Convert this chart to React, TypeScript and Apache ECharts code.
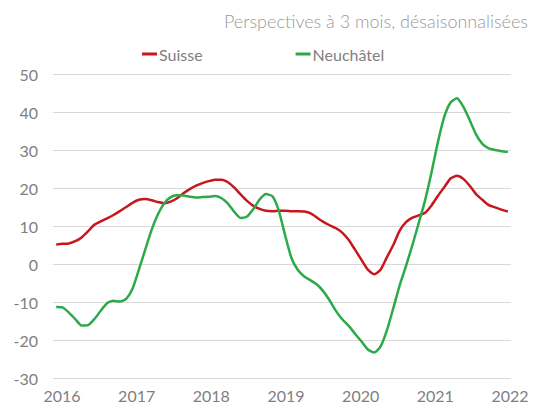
import React, { useEffect, useRef } from "react";
import * as echarts from "echarts";

const months: string[] = [];
for (let y = 2016; y <= 2021; y++) {
  for (let m = 1; m <= 12; m++) months.push(`${y}-${String(m).padStart(2, "0")}`);
}

const suisse = [
  5.1, 5.3, 5.4, 6.0, 7.0, 8.6, 10.3, 11.2, 12.0, 12.9, 13.9, 15.0,
  16.1, 16.9, 17.1, 16.8, 16.3, 16.0, 16.4, 17.3, 18.6, 19.7, 20.6, 21.3,
  21.8, 22.2, 22.2, 21.5, 20.1, 18.3, 16.6, 15.3, 14.5, 14.0, 13.9, 14.0,
  14.0, 13.9, 13.9, 13.8, 13.3, 12.2, 11.1, 10.2, 9.4, 8.2, 6.3, 3.7,
  1.1, -1.5, -2.7, -1.5, 1.8, 5.0, 8.8, 11.0, 12.2, 12.8, 13.5, 15.4,
  17.9, 20.2, 22.5, 23.2, 22.4, 20.6, 18.4, 16.9, 15.5, 14.9, 14.3, 13.8,
];

const neuchatel = [
  -11.3, -11.4, -12.8, -14.5, -16.2, -16.1, -14.5, -12.3, -10.3, -9.7, -9.9, -9.2,
  -6.5, -1.5, 3.8, 9.0, 13.1, 16.0, 17.6, 18.1, 18.0, 17.7, 17.5, 17.6,
  17.7, 17.9, 17.3, 15.9, 13.7, 12.1, 12.5, 14.5, 17.0, 18.4, 17.8, 14.0,
  7.5, 1.5, -1.6, -3.3, -4.3, -5.4, -7.2, -9.6, -12.4, -14.6, -16.3, -18.4,
  -20.4, -22.5, -23.3, -21.7, -17.4, -11.6, -5.6, -0.5, 5.0, 10.8, 16.8, 24.1,
  32.0, 38.7, 42.5, 43.6, 41.4, 37.9, 34.1, 31.6, 30.4, 30.0, 29.7, 29.5,
];

const yearLabels = ["2016", "2017", "2018", "2019", "2020", "2021", "2022"];

const FONT = "Lato, 'Open Sans', sans-serif";
const GRAY = "#808080";

export default function App() {
  const ref = useRef<HTMLDivElement>(null);
  useEffect(() => {
    if (!ref.current) return;
    const chart = echarts.init(ref.current, null, { renderer: "svg" });
    chart.setOption({
      animation: false,
      textStyle: { fontFamily: FONT },
      title: {
        text: "Perspectives à 3 mois, désaisonnalisées",
        right: 2,
        top: 7,
        textStyle: { fontFamily: FONT, fontSize: 18, fontWeight: 300, color: "#999999" },
      },
      legend: {
        left: 137,
        top: 41,
        itemGap: 93,
        itemWidth: 15,
        itemHeight: 3,
        icon: "rect",
        textStyle: { fontFamily: FONT, fontSize: 16, color: GRAY, padding: [0, 0, 0, -3] },
        data: ["Suisse", "Neuchâtel"],
      },
      grid: { left: 53, right: 24, top: 74, bottom: 25, containLabel: false },
      xAxis: [
        {
          type: "category",
          data: months,
          boundaryGap: true,
          axisLabel: { show: false },
          axisTick: { show: false },
          axisLine: { show: false },
        },
        {
          type: "value",
          position: "bottom",
          min: 2015.8795,
          max: 2022.0134,
          splitLine: { show: false },
          axisTick: { show: false },
          axisLine: { show: false },
          axisLabel: {
            customValues: yearLabels.map(Number),
            formatter: (v: number) => String(Math.round(v)),
            fontFamily: FONT,
            fontSize: 16,
            color: GRAY,
            margin: 9,
          },
        },
      ],
      yAxis: {
        type: "value",
        min: -30,
        max: 50,
        interval: 10,
        axisLine: { show: false },
        axisTick: { show: false },
        axisLabel: { fontFamily: FONT, fontSize: 16, color: GRAY, margin: 15 },
        splitLine: { lineStyle: { color: "#d9d9d9", width: 1 } },
      },
      series: [
        {
          name: "Suisse",
          type: "line",
          data: suisse,
          xAxisIndex: 0,
          showSymbol: false,
          smooth: 0.2,
          lineStyle: { color: "#c8161d", width: 2.5 },
          itemStyle: { color: "#c8161d" },
        },
        {
          name: "Neuchâtel",
          type: "line",
          data: neuchatel,
          xAxisIndex: 0,
          showSymbol: false,
          smooth: 0.2,
          lineStyle: { color: "#2baa4a", width: 2.5 },
          itemStyle: { color: "#2baa4a" },
        },
      ],
    });
    return () => chart.dispose();
  }, []);
  return <div ref={ref} style={{ width: 535, height: 403, position: "absolute", left: 0, top: 0 }} />;
}
